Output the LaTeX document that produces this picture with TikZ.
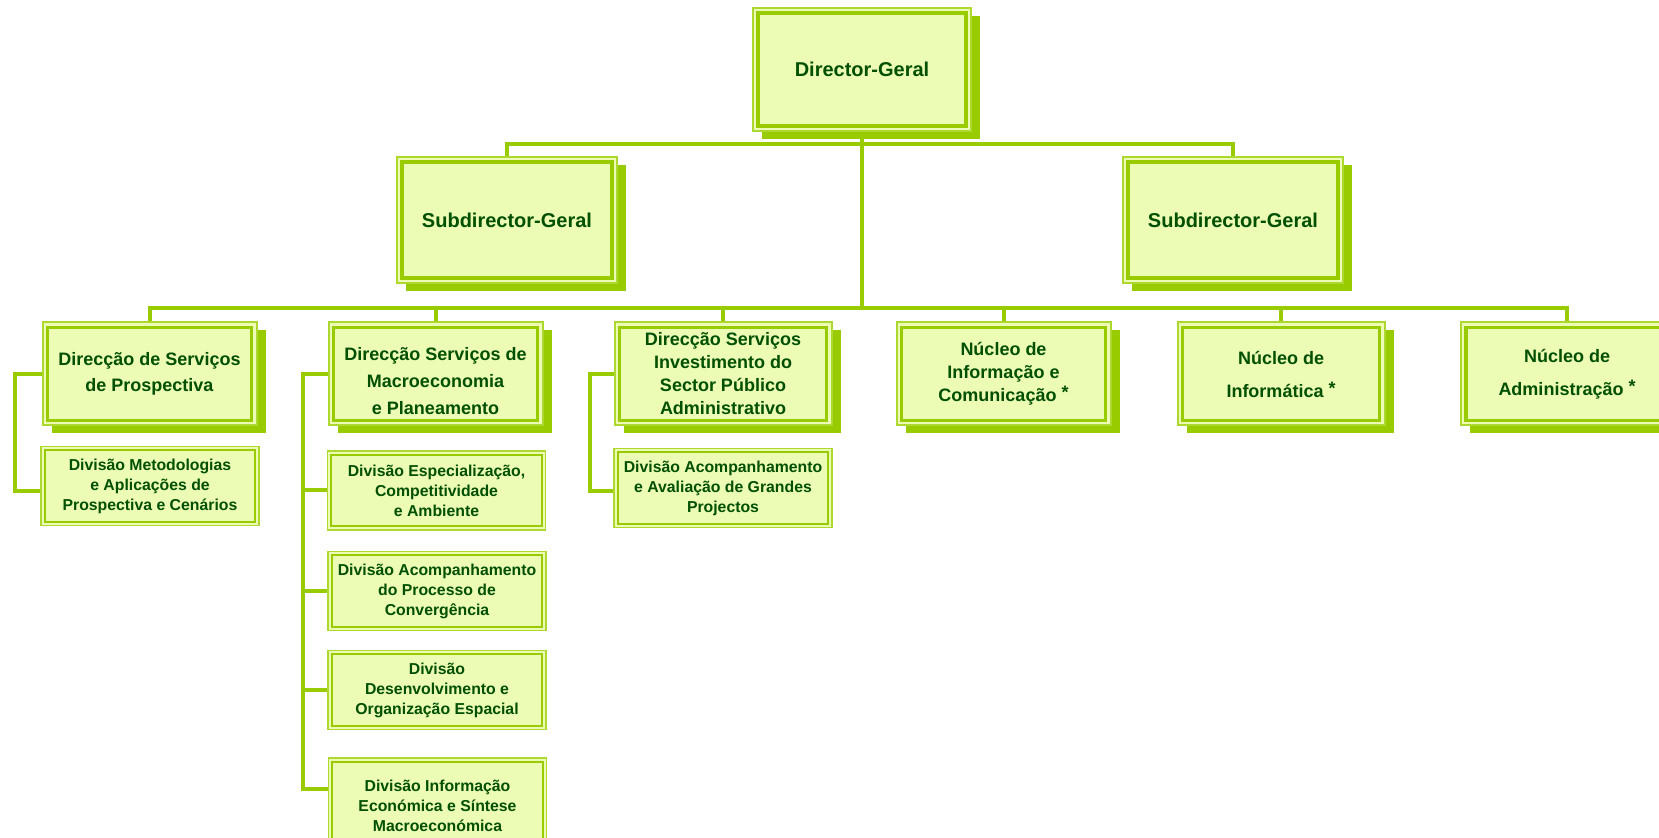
\documentclass[tikz,border=0pt]{standalone}
\usepackage{fontspec}
\setmainfont{Liberation Sans}
\usetikzlibrary{shadows}

\definecolor{boxfill}{RGB}{237,252,180}
\definecolor{linegreen}{RGB}{153,204,0}
\definecolor{edgegreen}{RGB}{172,216,48}
\definecolor{textgreen}{RGB}{0,80,0}

\tikzset{
  conn/.style={draw=linegreen, line width=2pt},
  mainbox/.style={draw=edgegreen, line width=1pt, fill=boxfill, text=textgreen,
    inner sep=0pt, align=center, minimum width=107pt, minimum height=51.5pt,
    font=\bfseries\fontsize{9}{13}\selectfont,
    drop shadow={shadow xshift=4.5pt, shadow yshift=-4pt, fill=linegreen, opacity=1},
    path picture={\draw[linegreen, line width=1.75pt]
      ([shift={(2.4pt,-2.4pt)}]path picture bounding box.north west) rectangle
      ([shift={(-2.4pt,2.4pt)}]path picture bounding box.south east);}},
  topbox/.style={mainbox, font=\bfseries\fontsize{10}{13}\selectfont},
  divbox/.style={draw=edgegreen, line width=0.7pt, fill=boxfill, text=textgreen,
    inner sep=0pt, align=center, minimum width=109pt, minimum height=39.5pt,
    font=\bfseries\fontsize{7.9}{10}\selectfont,
    path picture={\draw[linegreen, line width=1pt]
      ([shift={(1.8pt,-1.8pt)}]path picture bounding box.north west) rectangle
      ([shift={(-1.8pt,1.8pt)}]path picture bounding box.south east);}}
}
\newcommand{\nucast}{ \raisebox{1.5pt}{*}}

\begin{document}
\begin{tikzpicture}[x=0.5pt, y=-0.5pt]
    \useasboundingbox (0,0) rectangle (1659,838);

    % top levels
    \node[topbox, minimum width=109pt, minimum height=61.5pt] (dg) at (862,69.5) {Director-Geral};
    \node[topbox, minimum width=110pt, minimum height=63pt] (sgl) at (507,220) {Subdirector-Geral};
    \node[topbox, minimum width=110pt, minimum height=63pt] (sgr) at (1233,220) {Subdirector-Geral};

    % direccoes e nucleos
    \node[mainbox] (dsp) at (149.5,374) {Direcção de Serviços\\de Prospectiva};
    \node[mainbox, font=\bfseries\fontsize{9}{13.5}\selectfont] (dsmp) at (435.5,374) {\rule{0pt}{14pt}Direcção Serviços de\\Macroeconomia\\e Planeamento};
    \node[mainbox, minimum width=108.5pt, font=\bfseries\fontsize{9}{11.5}\selectfont] (dsis) at (723,374) {Direcção Serviços\\Investimento do\\Sector Público\\Administrativo};
    \node[mainbox, font=\bfseries\fontsize{9}{11.5}\selectfont] (nic) at (1003.5,374) {Núcleo de\\Informação e\\Comunicação\nucast};
    \node[mainbox, minimum width=103.5pt, font=\bfseries\fontsize{9}{16.5}\selectfont] (ninf) at (1281,374) {Núcleo de\\Informática\nucast};
    \node[mainbox, minimum width=106pt, font=\bfseries\fontsize{9}{16.5}\selectfont] (nadm) at (1567,374) {Núcleo de\\Administração\nucast};

    % divisoes
    \node[divbox] (dmap) at (150,486) {Divisão Metodologias\\e Aplicações de\\Prospectiva e Cenários};
    \node[divbox] (deca) at (436.5,490.5) {Divisão Especialização,\\Competitividade\\e Ambiente};
    \node[divbox] (dapc) at (437,591) {Divisão Acompanhamento\\do Processo de\\Convergência};
    \node[divbox] (ddoe) at (437,690) {Divisão\\Desenvolvimento e\\Organização Espacial};
    \node[divbox, minimum height=48pt] (dies) at (437.5,806) {Divisão Informação\\Económica e Síntese\\Macroeconómica};
    \node[divbox] (daag) at (723,488) {Divisão Acompanhamento\\e Avaliação de Grandes\\Projectos};

    \coordinate (bus1) at (862,144);
    \coordinate (bus2) at (862,308);
    \coordinate (sp1) at (15,430);
    \coordinate (sp2) at (303,430);
    \coordinate (sp3) at (590,430);

    \draw[conn] (sgl.north) |- (bus1) -| (sgr.north);
    \draw[conn] (dg.south) -- (bus2);
    \draw[conn] (dsp.north) |- (bus2) -| (nadm.north);
    \foreach \n in {dsmp,dsis,nic,ninf}
        \draw[conn] (\n.north) -- (\n.north |- bus2);

    \draw[conn] (dsp.west) -| (sp1) |- ([yshift=-2.5pt]dmap.west);
    \draw[conn] (dsmp.west) -| (sp2) |- ([yshift=8.5pt]dies.west);
    \foreach \n in {deca,dapc,ddoe}
        \draw[conn] (sp2 |- \n.west) -- (\n.west);
    \draw[conn] (dsis.west) -| (sp3) |- ([yshift=-1.5pt]daag.west);

\end{tikzpicture}
\end{document}
